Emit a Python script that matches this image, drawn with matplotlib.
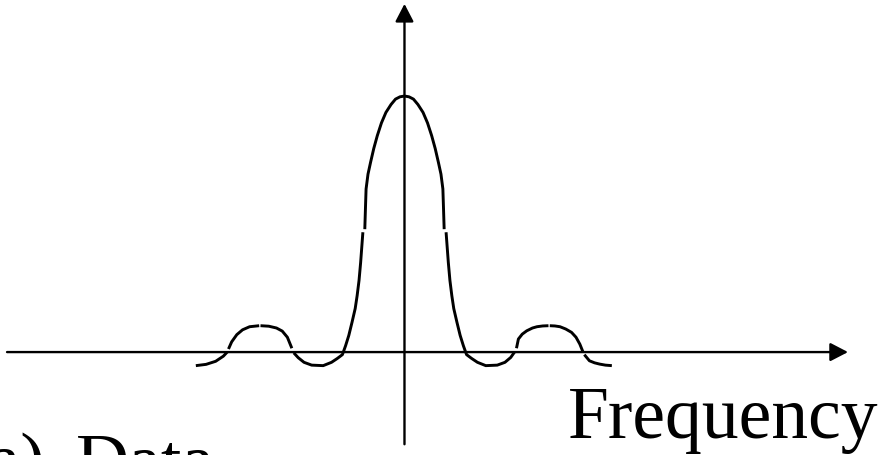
import numpy as np
import matplotlib.pyplot as plt
from matplotlib.patches import FancyArrowPatch

# spectrum curve (frequency, normalised amplitude)
# nan marks the small breaks between the drawn pieces
freq = [-3.26, -3.10, -2.95, -2.83, -2.77, np.nan,
        -2.75, -2.70, -2.62, -2.53, -2.42, -2.27, np.nan,
        -2.25, -2.12, -2.00, -1.91, -1.83, -1.76, np.nan,
        -1.73, -1.66, -1.57, -1.45, -1.27, -1.14, -1.05, -0.97, -0.92,
        -0.87, -0.82, -0.77, -0.74, -0.71, -0.685, -0.65, np.nan,
        -0.62, -0.61, -0.60, -0.57, -0.53, -0.48, -0.425, -0.36, -0.29,
        -0.21, -0.14, -0.07, 0.0, 0.07, 0.14, 0.21, 0.29, 0.36, 0.425,
        0.48, 0.53, 0.57, 0.60, 0.61, 0.62, np.nan,
        0.65, 0.685, 0.71, 0.74, 0.77, 0.82, 0.87, 0.92, 0.97, 1.05,
        1.14, 1.27, 1.45, 1.57, 1.66, 1.72, np.nan,
        1.75, 1.78, 1.84, 1.91, 2.00, 2.07, 2.16, 2.25, np.nan,
        2.27, 2.35, 2.43, 2.52, 2.61, 2.68, 2.74, 2.79, np.nan,
        2.81, 2.89, 2.97, 3.05, 3.14, 3.24]
amp = [-0.053, -0.048, -0.036, -0.016, 0.0, np.nan,
       0.012, 0.040, 0.068, 0.087, 0.099, 0.103, np.nan,
       0.103, 0.101, 0.094, 0.082, 0.058, 0.015, np.nan,
       -0.003, -0.022, -0.040, -0.051, -0.053, -0.040, -0.025, -0.010, 0.025,
       0.065, 0.116, 0.170, 0.220, 0.280, 0.350, 0.468, np.nan,
       0.480, 0.560, 0.637, 0.695, 0.741, 0.795, 0.845, 0.895, 0.936,
       0.967, 0.988, 0.997, 1.0, 0.997, 0.988, 0.967, 0.936, 0.895, 0.845,
       0.795, 0.741, 0.695, 0.637, 0.560, 0.480, np.nan,
       0.468, 0.350, 0.280, 0.220, 0.170, 0.116, 0.065, 0.025, -0.010, -0.025,
       -0.040, -0.053, -0.051, -0.040, -0.021, 0.0, np.nan,
       0.015, 0.051, 0.070, 0.083, 0.094, 0.099, 0.102, 0.103, np.nan,
       0.103, 0.102, 0.099, 0.090, 0.077, 0.058, 0.031, 0.0, np.nan,
       -0.010, -0.034, -0.042, -0.047, -0.051, -0.053]

fig = plt.figure(figsize=(8.88, 4.56), dpi=100)
ax = fig.add_axes([0, 0, 1, 1])
ax.set_xlim(-6.32, 7.555)
ax.set_ylim(-0.402, 1.379)
ax.axis('off')

# axes drawn as arrows
arrow_style = '-|>,head_length=10.8,head_width=5.6'
ax.add_patch(FancyArrowPatch((-6.21, 0), (6.93, 0), arrowstyle=arrow_style,
                             mutation_scale=1, lw=1.7, color='black',
                             shrinkA=0, shrinkB=0))
ax.add_patch(FancyArrowPatch((0, -0.36), (0, 1.36), arrowstyle=arrow_style,
                             mutation_scale=1, lw=1.7, color='black',
                             shrinkA=0, shrinkB=0))

ax.plot(freq, amp, color='black', lw=2.1, solid_capstyle='butt')

ax.text(2.555, -0.332, 'Frequency', fontsize=53, family='Liberation Serif',
        ha='left', va='baseline')
ax.text(-5.60, -0.512, '(a)', fontsize=53, family='Liberation Serif',
        ha='right', va='baseline')
ax.text(-5.13, -0.512, 'Data', fontsize=53, family='Liberation Serif',
        ha='left', va='baseline')

fig.savefig('out.png', dpi=100)
